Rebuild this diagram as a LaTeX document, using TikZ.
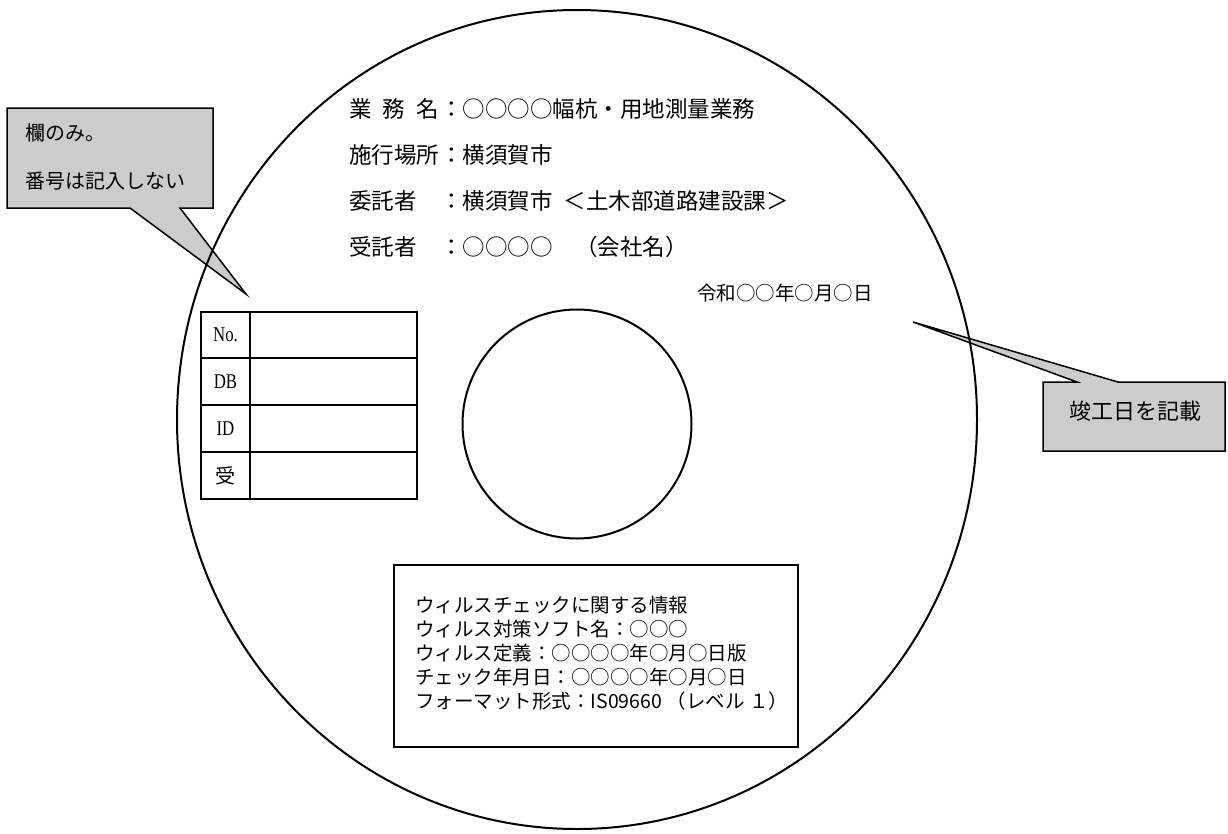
\documentclass[tikz,border=0pt]{standalone}
\usepackage{fontspec}
\setmainfont{Liberation Serif}
\newfontfamily\jp{Noto Sans CJK JP}
\definecolor{callgray}{gray}{0.80}
\tikzset{
  callout/.style={fill=callgray, draw=black, line width=1.5pt, line join=miter},
  disc/.style={draw=black, line width=2pt},
  infobox/.style={draw=black, line width=2.4pt},
  cell/.style={draw=black, line width=1.4pt},
  jtext/.style={inner sep=0pt, anchor=west, font=\jp\fontsize{22.5}{24}\selectfont},
  jsmall/.style={inner sep=0pt, anchor=west, font=\jp\fontsize{19.5}{22}\selectfont},
  jbox/.style={inner sep=0pt, anchor=west, font=\jp\fontsize{19.5}{22}\selectfont},
  ctext/.style={inner sep=0pt, anchor=west, font=\jp\fontsize{20}{22}\selectfont},
  rtext/.style={inner sep=0pt, font=\jp\fontsize{22}{24}\selectfont},
  tlabel/.style={inner sep=0pt, font=\fontsize{21}{23}\selectfont},
  tjlabel/.style={inner sep=0pt, font=\jp\fontsize{20}{22}\selectfont}
}
\begin{document}
\begin{tikzpicture}[x=1pt,y=-1pt]
\useasboundingbox (0,0) rectangle (1228,833);
\fill[white] (0,0) rectangle (1228,833);

% callouts (drawn below the disc outline)
\coordinate (ltip) at (246,294);
\coordinate (rtip) at (913,322);
\draw[callout] (7,108) -- (213,108) -- (213,208) -- (180,208) -- (ltip) -- (130,208) -- (7,208) -- cycle;
\draw[callout] (1043,382) -- (1077,382) -- (rtip) -- (1118,382) -- (1225,382) -- (1225,451) -- (1043,451) -- cycle;
\node[ctext] (c1) at (25,133) {欄のみ。};
\node[ctext] (c2) at (25,181) {番号は記入しない};
\node[rtext] (c3) at (1135,411) {竣工日を記載};

% disc
\draw[disc] (577,419.5) ellipse [x radius=400, y radius=409.5];
\draw[disc] (577,424) circle [radius=114.5];

% header text
\node[jtext] (k1) at (349,109) {\makebox[4em][s]{業\hfill 務\hfill 名}};
\node[jtext] (v1) at (440,109) {：○○○○幅杭・用地測量業務};
\node[jtext] (k2) at (349,155) {施行場所};
\node[jtext] (v2) at (440,155) {：横須賀市};
\node[jtext] (k3) at (349,201) {委託者};
\node[jtext] (v3) at (440,201) {：横須賀市\hspace{0.5em}＜土木部道路建設課＞};
\node[jtext] (k4) at (349,247) {受託者};
\node[jtext] (v4) at (440,247) {：○○○○　（会社名）};
\node[jsmall] (date) at (697,293) {令和○○年○月○日};

% table
\draw[cell] (201,312) rectangle (417,499);
\draw[cell] (250,312) -- (250,499);
\draw[cell] (201,358) -- (417,358);
\draw[cell] (201,405) -- (417,405);
\draw[cell] (201,452) -- (417,452);
\node[tlabel] (t1) at (225.5,335) {\scalebox{0.8}[1]{No.}};
\node[tlabel] (t2) at (225.5,382) {\scalebox{0.8}[1]{DB}};
\node[tlabel] (t3) at (225.5,429) {\scalebox{0.8}[1]{ID}};
\node[tjlabel] (t4) at (225.5,476) {受};

% virus info box
\draw[infobox] (394,565) rectangle (798,747);
\node[jbox] (b1) at (415,605) {ウィルスチェックに関する情報};
\node[jbox] (b2) at (415,629) {ウィルス対策ソフト名：○○○};
\node[jbox] (b3) at (415,653) {ウィルス定義：○○○○年○月○日版};
\node[jbox] (b4) at (415,677) {チェック年月日：○○○○年○月○日};
\node[jbox] (b5) at (415,701) {フォーマット形式：IS09660 （レベル\hspace{0.25em}１）};
\end{tikzpicture}
\end{document}
